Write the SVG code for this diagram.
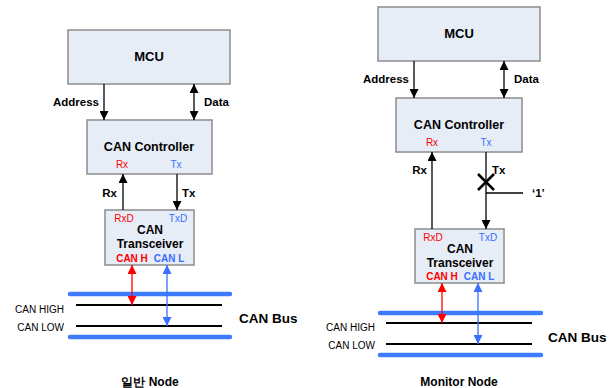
<svg xmlns="http://www.w3.org/2000/svg" width="611" height="388" viewBox="0 0 611 388">
<style>
.box{fill:#E7EDF7;stroke:#8C8C8C;stroke-width:1.5}
.t{font-family:"Liberation Sans",Arial,sans-serif;fill:#000}
.b{font-weight:bold}
.c{text-anchor:middle}
.r{text-anchor:end}
.red{fill:#FF0000}
.blu{fill:#3A6FFF}
.ln{stroke:#000;stroke-width:1.3;fill:none}
.lr{stroke:#FF0000;stroke-width:1.3;fill:none}
.lb{stroke:#3A6FFF;stroke-width:1.3;fill:none}
.bus{stroke:#3F7BFF;stroke-width:4.5;stroke-linecap:round}
.wire{stroke:#000;stroke-width:2}
</style>
<defs>
<marker id="ak" viewBox="0 0 10 10" refX="10" refY="5" markerWidth="10" markerHeight="9" markerUnits="userSpaceOnUse" orient="auto-start-reverse"><path d="M0,0 L10,5 L0,10 z" fill="#000"/></marker>
<marker id="ar" viewBox="0 0 10 10" refX="10" refY="5" markerWidth="10" markerHeight="9" markerUnits="userSpaceOnUse" orient="auto-start-reverse"><path d="M0,0 L10,5 L0,10 z" fill="#FF0000"/></marker>
<marker id="ab" viewBox="0 0 10 10" refX="10" refY="5" markerWidth="10" markerHeight="9" markerUnits="userSpaceOnUse" orient="auto-start-reverse"><path d="M0,0 L10,5 L0,10 z" fill="#3A6FFF"/></marker>
</defs>

<!-- Left: general node -->
<g id="mcu1"><rect class="box" x="68" y="30" width="162" height="54"/><text class="t b c" x="149" y="61" font-size="13">MCU</text></g>
<g id="ctrl1"><rect class="box" x="87" y="120" width="125" height="54"/><text class="t b c" x="149" y="151" font-size="12.5">CAN Controller</text><text class="t red c" x="122" y="168" font-size="10">Rx</text><text class="t blu c" x="176" y="168" font-size="10">Tx</text></g>
<g id="trx1"><rect class="box" x="105" y="210" width="89" height="55"/><text class="t red c" x="124" y="222" font-size="10">RxD</text><text class="t blu c" x="178" y="222" font-size="10">TxD</text><text class="t b c" x="150" y="234" font-size="12">CAN</text><text class="t b c" x="150" y="248" font-size="12">Transceiver</text><text class="t b red c" x="132" y="261.5" font-size="10">CAN H</text><text class="t b blu c" x="169" y="261.5" font-size="10">CAN L</text></g>
<g id="bus1"><line class="bus" x1="70" y1="294" x2="230" y2="294"/><line class="bus" x1="70" y1="337" x2="230" y2="337"/><line class="wire" x1="76" y1="305" x2="222" y2="305"/><line class="wire" x1="76" y1="326" x2="222" y2="326"/><text class="t r" x="64" y="313" font-size="10">CAN HIGH</text><text class="t r" x="64" y="331" font-size="10">CAN LOW</text><text class="t b" x="239" y="323" font-size="13.5">CAN Bus</text></g>
<text class="t b c" x="150" y="386" font-size="12">일반 Node</text>

<!-- Right: monitor node -->
<g id="mcu2"><rect class="box" x="378" y="7" width="162" height="54"/><text class="t b c" x="459" y="38" font-size="13">MCU</text></g>
<g id="ctrl2"><rect class="box" x="396" y="98" width="126" height="54"/><text class="t b c" x="459" y="129" font-size="12.5">CAN Controller</text><text class="t red c" x="432" y="146" font-size="10">Rx</text><text class="t blu c" x="486" y="146" font-size="10">Tx</text></g>
<g id="trx2"><rect class="box" x="415" y="229" width="89" height="54"/><text class="t red c" x="433" y="241" font-size="10">RxD</text><text class="t blu c" x="488" y="241" font-size="10">TxD</text><text class="t b c" x="460" y="253" font-size="12">CAN</text><text class="t b c" x="460" y="267" font-size="12">Transceiver</text><text class="t b red c" x="442" y="280" font-size="10">CAN H</text><text class="t b blu c" x="479" y="280" font-size="10">CAN L</text></g>
<g id="bus2"><line class="bus" x1="380" y1="313" x2="541" y2="313"/><line class="bus" x1="380" y1="355" x2="541" y2="355"/><line class="wire" x1="386" y1="323" x2="532" y2="323"/><line class="wire" x1="386" y1="344" x2="532" y2="344"/><text class="t r" x="375" y="331" font-size="10">CAN HIGH</text><text class="t r" x="375" y="349" font-size="10">CAN LOW</text><text class="t b" x="548" y="342" font-size="13.5">CAN Bus</text></g>
<text class="t b c" x="459" y="386" font-size="12">Monitor Node</text>

<g id="connectors">
<line class="ln" x1="104" y1="84" x2="104" y2="120" marker-end="url(#ak)"/>
<text class="t b r" x="99" y="106" font-size="11.5">Address</text>
<line class="ln" x1="194" y1="84" x2="194" y2="120" marker-start="url(#ak)" marker-end="url(#ak)"/>
<text class="t b" x="204" y="106" font-size="11.5">Data</text>
<line class="ln" x1="123" y1="210" x2="123" y2="174" marker-end="url(#ak)"/>
<text class="t b r" x="117" y="197" font-size="11.5">Rx</text>
<line class="ln" x1="177" y1="174" x2="177" y2="210" marker-end="url(#ak)"/>
<text class="t b" x="182" y="197" font-size="11.5">Tx</text>
<line class="lr" x1="132" y1="265" x2="132" y2="305" marker-start="url(#ar)" marker-end="url(#ar)"/>
<line class="lb" x1="167" y1="265" x2="167" y2="326" marker-start="url(#ab)" marker-end="url(#ab)"/>

<line class="ln" x1="414" y1="61" x2="414" y2="98" marker-end="url(#ak)"/>
<text class="t b r" x="409" y="83" font-size="11.5">Address</text>
<line class="ln" x1="504" y1="61" x2="504" y2="98" marker-start="url(#ak)" marker-end="url(#ak)"/>
<text class="t b" x="514" y="83" font-size="11.5">Data</text>
<line class="ln" x1="432" y1="229" x2="432" y2="152" marker-end="url(#ak)"/>
<text class="t b r" x="427" y="174" font-size="11.5">Rx</text>
<line class="ln" x1="486" y1="152" x2="486" y2="229" marker-end="url(#ak)"/>
<path d="M478,174 L494,190 M494,174 L478,190" stroke="#000" stroke-width="2.5" fill="none"/>
<line class="ln" x1="486" y1="193" x2="523" y2="193"/>
<text class="t b" x="492" y="174" font-size="11.5">Tx</text>
<text class="t b" x="532" y="197" font-size="11.5">‘1’</text>
<line class="lr" x1="442" y1="283" x2="442" y2="323" marker-start="url(#ar)" marker-end="url(#ar)"/>
<line class="lb" x1="478" y1="283" x2="478" y2="344" marker-start="url(#ab)" marker-end="url(#ab)"/>
</g>
</svg>
